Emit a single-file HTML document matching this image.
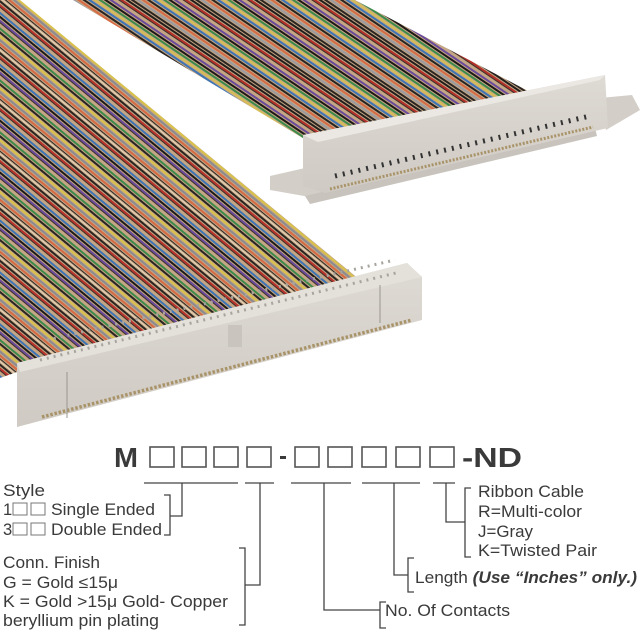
<!DOCTYPE html>
<html><head><meta charset="utf-8"><style>
html,body{margin:0;padding:0;background:#fff}
svg{display:block}
text{font-family:"Liberation Sans","DejaVu Sans",sans-serif;fill:#3a3a3a}
</style></head><body>
<svg width="640" height="640" viewBox="0 0 640 640" xmlns="http://www.w3.org/2000/svg">
<defs>
<pattern id="w1" width="40" height="40" patternUnits="userSpaceOnUse" patternTransform="rotate(39.6)">
<rect width="40" height="40" fill="#c4a684"/>
<rect y="0" width="40" height="2" fill="#2a2420"/>
<rect y="3" width="40" height="2" fill="#b7332c"/>
<rect y="5" width="40" height="1" fill="#3a302a"/>
<rect y="9" width="40" height="2" fill="#3d74b5"/>
<rect y="12" width="40" height="2" fill="#1e1a18"/>
<rect y="15" width="40" height="2" fill="#6a4a9a"/>
<rect y="17" width="40" height="1" fill="#3a302a"/>
<rect y="21" width="40" height="2" fill="#3c8a4a"/>
<rect y="24" width="40" height="2" fill="#2b2522"/>
<rect y="27" width="40" height="2" fill="#d9c24a"/>
<rect y="30" width="40" height="2" fill="#8a8a92"/>
<rect y="33" width="40" height="2" fill="#d56a44"/>
<rect y="36" width="40" height="1" fill="#2b2522"/>
<rect y="38" width="40" height="1" fill="#e8d7bf"/>
</pattern>
<pattern id="w2" width="36" height="36" patternUnits="userSpaceOnUse" patternTransform="rotate(34)">
<rect width="36" height="36" fill="#c4a684"/>
<rect y="0" width="36" height="2" fill="#231e1b"/>
<rect y="3" width="36" height="2" fill="#b3302a"/>
<rect y="5" width="36" height="1" fill="#3a302a"/>
<rect y="9" width="36" height="2" fill="#6a4a9a"/>
<rect y="12" width="36" height="2" fill="#1d1917"/>
<rect y="15" width="36" height="2" fill="#3c8a4a"/>
<rect y="18" width="36" height="2" fill="#d6be55"/>
<rect y="21" width="36" height="2" fill="#3d74b5"/>
<rect y="24" width="36" height="2" fill="#2a2420"/>
<rect y="27" width="36" height="2" fill="#d56a44"/>
<rect y="30" width="36" height="2" fill="#9a9aa0"/>
<rect y="33" width="36" height="2" fill="#2b2522"/>
</pattern>
<linearGradient id="cg" x1="0" y1="0" x2="0" y2="1"><stop offset="0" stop-color="#dedad4"/><stop offset="1" stop-color="#cfcac3"/></linearGradient>
</defs>

<polygon points="73,0 355,0 530,92 306,140" fill="url(#w2)"/>
<polygon points="0,0 20,0 360,280 17,372 0,378" fill="url(#w1)"/>

<!-- right connector -->
<polygon points="270,176 305,168 327,178 327,200 270,190" fill="#d3cec7"/>
<polygon points="600,98 632,95 640,110 606,130" fill="#d3cec7"/>
<polygon points="305,196 595,128 597,136 310,204" fill="#c8c3bc"/>
<polygon points="303,135 605,75 608,128 325,193 303,186" fill="url(#cg)"/>
<polygon points="303,135 605,75 600,80 318,142" fill="#ebe8e3"/>
<line x1="330" y1="189" x2="593" y2="127" stroke="#a9946a" stroke-width="3" stroke-dasharray="2 1.6"/>
<line x1="335" y1="176" x2="590" y2="116" stroke="#333" stroke-width="5" stroke-dasharray="2 6"/>

<!-- left connector -->
<polygon points="17,363 407,263 422,277 422,320 17,427" fill="url(#cg)"/>
<polygon points="17,363 407,263 422,277 20,372" fill="#e4e0da"/>
<line x1="47" y1="340" x2="395" y2="260" stroke="#a8a49e" stroke-width="3" stroke-dasharray="2 5"/>
<line x1="40" y1="360" x2="400" y2="272" stroke="#a8a49e" stroke-width="3" stroke-dasharray="2 5"/>
<line x1="42" y1="417" x2="412" y2="320" stroke="#a9946a" stroke-width="3.5" stroke-dasharray="2.5 1.8"/>
<line x1="67" y1="372" x2="67" y2="418" stroke="#9a968f" stroke-width="1"/>
<line x1="380" y1="285" x2="380" y2="323" stroke="#9a968f" stroke-width="1"/>
<rect x="228" y="325" width="14" height="22" fill="#c9c4bd"/>

<!-- part number -->
<text x="114" y="467" font-size="28" font-weight="bold" textLength="24" lengthAdjust="spacingAndGlyphs">M</text>
<g fill="none" stroke="#555" stroke-width="1.6">
<rect x="150" y="447" width="24" height="20"/><rect x="182" y="447" width="24" height="20"/>
<rect x="214" y="447" width="24" height="20"/><rect x="247" y="447" width="24" height="20"/>
<rect x="295" y="447" width="24" height="20"/><rect x="328" y="447" width="24" height="20"/>
<rect x="362" y="447" width="24" height="20"/><rect x="396" y="447" width="24" height="20"/>
<rect x="430" y="447" width="24" height="20"/>
</g>
<rect x="280" y="456" width="6" height="3" fill="#3a3a3a"/>
<text x="462" y="467" font-size="28" font-weight="bold" textLength="60" lengthAdjust="spacingAndGlyphs">-ND</text>

<g stroke="#444" stroke-width="1.3" fill="none">
<line x1="144" y1="483" x2="238" y2="483"/>
<line x1="245" y1="483" x2="274" y2="483"/>
<line x1="291" y1="483" x2="351" y2="483"/>
<line x1="362" y1="483" x2="420" y2="483"/>
<line x1="433" y1="483" x2="455" y2="483"/>
<polyline points="182,483 182,516 170,516"/>
<polyline points="164,495 170,495 170,535 164,535"/>
<polyline points="260,483 260,585 245,585"/>
<polyline points="239,548 245,548 245,625 239,625"/>
<polyline points="324,483 324,610 380,610"/>
<polyline points="386,602 380,602 380,628 386,628"/>
<polyline points="394,483 394,575 408,575"/>
<polyline points="414,558 408,558 408,592 414,592"/>
<polyline points="446,483 446,522 465,522"/>
<polyline points="471,488 465,488 465,557 471,557"/>
</g>

<g font-size="16.5" lengthAdjust="spacingAndGlyphs">
<text x="3" y="496" textLength="42" lengthAdjust="spacingAndGlyphs">Style</text>
<text x="3" y="515">1</text>
<rect x="13" y="503" width="14" height="12" fill="none" stroke="#777" stroke-width="1"/>
<rect x="31" y="503" width="14" height="12" fill="none" stroke="#777" stroke-width="1"/>
<text x="51" y="515" textLength="104" lengthAdjust="spacingAndGlyphs">Single Ended</text>
<text x="3" y="535">3</text>
<rect x="13" y="523" width="14" height="12" fill="none" stroke="#777" stroke-width="1"/>
<rect x="31" y="523" width="14" height="12" fill="none" stroke="#777" stroke-width="1"/>
<text x="51" y="535" textLength="111" lengthAdjust="spacingAndGlyphs">Double Ended</text>
<text x="3" y="568" textLength="97" lengthAdjust="spacingAndGlyphs">Conn. Finish</text>
<text x="3" y="588" textLength="115" lengthAdjust="spacingAndGlyphs">G = Gold ≤15μ</text>
<text x="3" y="607" textLength="225" lengthAdjust="spacingAndGlyphs">K = Gold &gt;15μ Gold- Copper</text>
<text x="3" y="626" textLength="156" lengthAdjust="spacingAndGlyphs">beryllium pin plating</text>
<text x="385" y="616" textLength="125" lengthAdjust="spacingAndGlyphs">No. Of Contacts</text>
<text x="415" y="583" textLength="222" lengthAdjust="spacingAndGlyphs">Length <tspan font-weight="bold" font-style="italic">(Use “Inches” only.)</tspan></text>
<text x="478" y="497" textLength="106" lengthAdjust="spacingAndGlyphs">Ribbon Cable</text>
<text x="478" y="517" textLength="104" lengthAdjust="spacingAndGlyphs">R=Multi-color</text>
<text x="478" y="537" textLength="55" lengthAdjust="spacingAndGlyphs">J=Gray</text>
<text x="478" y="556" textLength="119" lengthAdjust="spacingAndGlyphs">K=Twisted Pair</text>
</g>
</svg>
</body></html>
